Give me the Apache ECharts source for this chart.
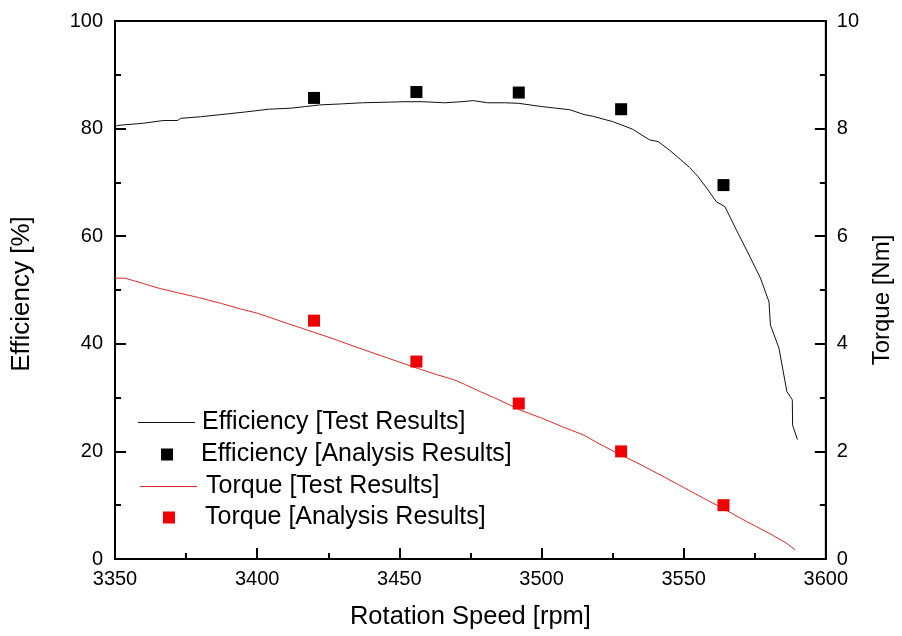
<!DOCTYPE html>
<html>
<head>
<meta charset="utf-8">
<script src="https://cdn.jsdelivr.net/npm/echarts@6/dist/echarts.min.js"></script>
<style>
html,body{margin:0;padding:0;background:#fff;}
#chart{width:902px;height:636px;}
</style>
</head>
<body>
<div id="chart"></div>
<script>
// ---- data ----
const effTestRpm = [3350,3351,3360,3367,3372,3373,3380,3389,3396,3404,3412,3417,3422,3430,3437,3445,3452,3458,3466,3472,3476,3481,3487,3492,3500,3505,3510,3515,3518,3525,3532,3538,3541,3545,3549,3552,3555,3558,3561.5,3564.5,3568.5,3573,3577,3580,3580.5,3583.5,3586.3,3588.2,3588.3,3590];
const effTestVal = [80.4,80.6,81.0,81.5,81.5,81.9,82.2,82.7,83.1,83.6,83.8,84.1,84.4,84.6,84.8,84.9,85.0,85.0,84.8,85.0,85.2,84.8,84.8,84.7,84.1,83.8,83.5,82.6,82.3,81.3,79.9,77.9,77.6,76.0,74.2,72.8,71.1,69.0,66.4,65.5,61.2,56.5,52.2,47.8,43.5,39.2,31.1,29.6,24.9,22.2];
const torqueTestRpm = [3350,3353.5,3360,3365.6,3372,3379.4,3387.4,3394,3400,3405,3410.5,3419.7,3428,3435.8,3446.2,3456.6,3463,3469.3,3472.8,3478.5,3485,3492.4,3500,3507.3,3515,3521,3528.1,3535,3541.9,3550,3557,3563.8,3572,3580,3586,3589.2];
const torqueTestVal = [5.22,5.22,5.12,5.03,4.95,4.86,4.75,4.65,4.57,4.48,4.38,4.22,4.07,3.92,3.73,3.54,3.43,3.33,3.25,3.11,2.96,2.77,2.62,2.46,2.30,2.12,1.93,1.75,1.56,1.33,1.13,0.94,0.70,0.48,0.30,0.17];
const analysisRpm = [3420,3456,3492,3528,3564];
const effAnalysis = [85.7,86.8,86.7,83.6,69.5];
const torqueAnalysis = [4.43,3.67,2.89,2.00,1.00];
const seriesNames = ['Efficiency [Test Results]','Efficiency [Analysis Results]','Torque [Test Results]','Torque [Analysis Results]'];

const zip = (xs, ys) => xs.map((x, i) => [x, ys[i]]);
const FONT = 'Liberation Sans, Arial, sans-serif';
const chart = echarts.init(document.getElementById('chart'), null, {renderer:'canvas'});

const axisLine = {show:true, lineStyle:{color:'#000', width:2}};
const axisTick = {show:true, inside:true, length:11, lineStyle:{color:'#000', width:2}};
const minorTick = {show:true, splitNumber:2, length:6, lineStyle:{color:'#000', width:2}};
const labelStyle = {color:'#000', fontSize:20, fontFamily:FONT};

function legendRow(name, top, left, isScatter, textPad){
  return {
    data:[name], orient:'vertical', left:left, top:top, padding:0,
    itemWidth: isScatter ? 12 : 57, itemHeight: isScatter ? 12 : 1.2,
    icon: 'rect',
    selectedMode:false,
    textStyle:{color:'#000', fontSize:25, fontFamily:FONT, padding:[0,0,0,textPad]}
  };
}

chart.setOption({
  animation:false,
  backgroundColor:'#fff',
  grid:{left:115, right:64, top:21, bottom:77, show:true, borderColor:'#000', borderWidth:2, backgroundColor:'transparent'},
  legend:[
    legendRow(seriesNames[0], 410, 138, false, 2),
    legendRow(seriesNames[1], 442, 161, true, 23),
    legendRow(seriesNames[2], 474, 140, false, 4),
    legendRow(seriesNames[3], 505, 163, true, 25)
  ],
  xAxis:{
    type:'value', min:3350, max:3600, interval:50,
    name:'Rotation Speed [rpm]', nameLocation:'middle', nameGap:45,
    nameTextStyle:{color:'#000', fontSize:25.5, fontFamily:FONT},
    axisLine:axisLine, axisTick:axisTick, minorTick:minorTick,
    splitLine:{show:false}, minorSplitLine:{show:false},
    axisLabel:Object.assign({margin:10, formatter: v => String(v)}, labelStyle)
  },
  yAxis:[{
    type:'value', min:0, max:100, interval:20, position:'left',
    name:'Efficiency [%]', nameLocation:'middle', nameGap:80,
    nameTextStyle:{color:'#000', fontSize:26, fontFamily:FONT, padding:[0,8,0,0]},
    axisLine:axisLine, axisTick:axisTick, minorTick:minorTick,
    splitLine:{show:false}, minorSplitLine:{show:false},
    axisLabel:Object.assign({margin:12}, labelStyle)
  },{
    type:'value', min:0, max:10, interval:2, position:'right',
    name:'Torque [Nm]', nameLocation:'middle', nameGap:32,
    nameTextStyle:{color:'#000', fontSize:24, fontFamily:FONT, padding:[0,20,0,0]},
    axisLine:axisLine, axisTick:axisTick, minorTick:minorTick,
    splitLine:{show:false}, minorSplitLine:{show:false},
    axisLabel:Object.assign({margin:11}, labelStyle)
  }],
  series:[{
    name:seriesNames[0], type:'line', yAxisIndex:0, showSymbol:false, symbol:'none',
    data:zip(effTestRpm, effTestVal),
    lineStyle:{color:'#111', width:1}, itemStyle:{color:'#111'}, z:2
  },{
    name:seriesNames[1], type:'scatter', yAxisIndex:0, symbol:'rect', symbolSize:12,
    data:zip(analysisRpm, effAnalysis), itemStyle:{color:'#000', opacity:1}, z:3
  },{
    name:seriesNames[2], type:'line', yAxisIndex:1, showSymbol:false, symbol:'none',
    data:zip(torqueTestRpm, torqueTestVal),
    lineStyle:{color:'#e02a2a', width:1}, itemStyle:{color:'#e02a2a'}, z:2
  },{
    name:seriesNames[3], type:'scatter', yAxisIndex:1, symbol:'rect', symbolSize:12,
    data:zip(analysisRpm, torqueAnalysis), itemStyle:{color:'#f00000', opacity:1}, z:3
  }]
});
</script>
</body>
</html>
